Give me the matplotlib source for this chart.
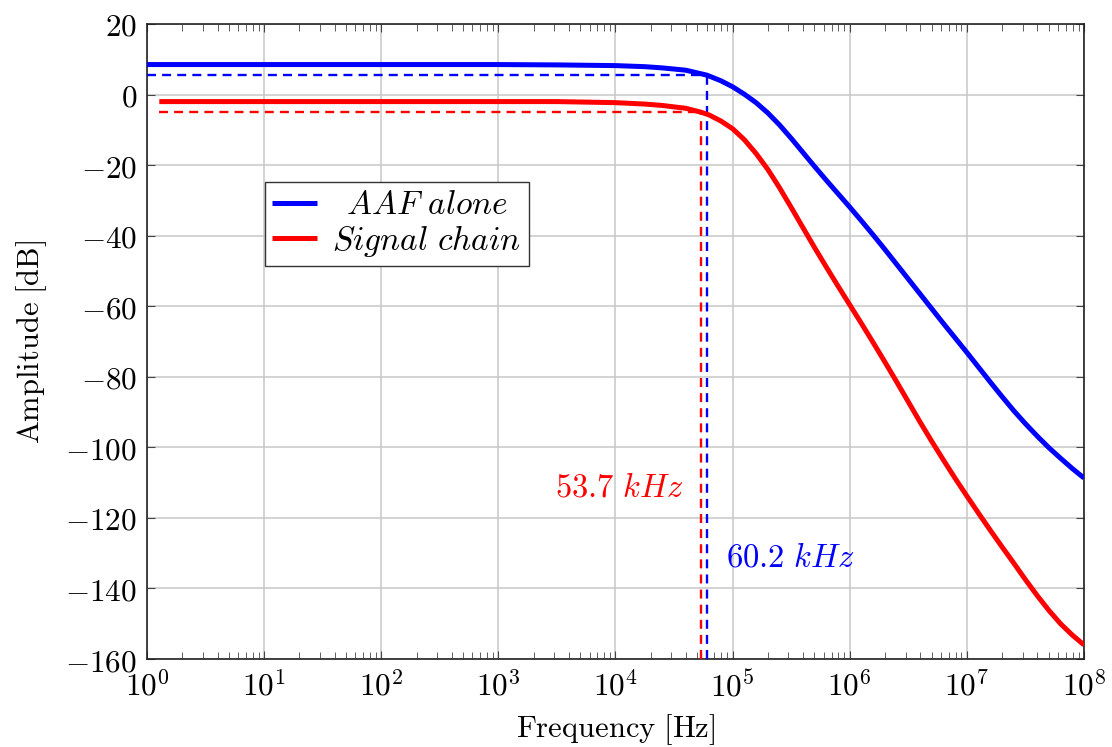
import numpy as np
import matplotlib
matplotlib.use('Agg')
import matplotlib.pyplot as plt
from matplotlib.ticker import LogLocator, FixedLocator, FuncFormatter, NullFormatter

plt.rcParams['mathtext.fontset'] = 'cm'
plt.rcParams['font.family'] = ['DejaVu Serif']

# values: log10(frequency in Hz) and amplitude in dB
aaf_logf = [0, 1, 2, 3, 3.5, 4.0, 4.25, 4.4, 4.6, 4.78, 4.9, 5.0, 5.1, 5.2, 5.3, 5.4,
            5.5, 5.6, 5.7, 5.8, 5.9, 6.0, 6.1, 6.2, 6.3, 6.4, 6.5, 6.6, 6.7, 6.8, 6.9,
            7.0, 7.1, 7.2, 7.3, 7.4, 7.5, 7.6, 7.7, 7.8, 7.9, 8.0]
aaf_db = [8.5, 8.5, 8.5, 8.5, 8.4, 8.2, 7.9, 7.55, 6.9, 5.5, 3.9, 2.2, 0.1, -2.3, -5.2, -8.6,
          -12.4, -16.4, -20.4, -24.3, -28.1, -31.9, -35.8, -39.8, -43.9, -48.1, -52.3, -56.5, -60.7, -64.9, -69.0,
          -73.1, -77.3, -81.5, -85.6, -89.6, -93.3, -96.8, -100.1, -103.1, -106.0, -108.7]

chain_logf = [0.105, 1, 2, 3, 3.5, 4.0, 4.25, 4.4, 4.6, 4.73, 4.8, 4.9, 5.0, 5.1, 5.2, 5.3, 5.4,
              5.5, 5.6, 5.7, 5.8, 5.9, 6.0, 6.1, 6.2, 6.3, 6.4, 6.5, 6.6, 6.7, 6.8, 6.9,
              7.0, 7.1, 7.2, 7.3, 7.4, 7.5, 7.6, 7.7, 7.8, 7.9, 8.0]
chain_db = [-2.0, -2.0, -2.0, -2.0, -2.0, -2.3, -2.7, -3.1, -3.9, -5.0, -5.8, -7.5, -9.7, -12.8, -16.7, -21.2, -26.4,
            -32.0, -37.7, -43.4, -48.9, -54.3, -59.6, -64.9, -70.3, -75.8, -81.4, -87.1, -92.8, -98.3, -103.6, -108.8,
            -113.8, -118.7, -123.5, -128.2, -132.8, -137.5, -142.0, -146.2, -150.0, -153.2, -156.0]

f3db_aaf = 60.2e3
f3db_chain = 53.7e3
level_aaf = 5.5
level_chain = -5.0
label_aaf = r'$60.2\ kHz$'
label_chain = r'$53.7\ kHz$'

aaf_freq = 10.0 ** np.array(aaf_logf)
chain_freq = 10.0 ** np.array(chain_logf)

fig = plt.figure(figsize=(11.12, 7.47), dpi=100)
ax = fig.add_axes([0.1322, 0.1178, 0.8426, 0.8501])

blue = (0, 0, 1)
red = (1, 0, 0)
dash = (0, (3.8, 2.6))

ax.plot(aaf_freq, aaf_db, color=blue, lw=3.6, label=r'$\enspace AAF\ alone$', zorder=4,
        solid_capstyle='butt')
ax.plot(chain_freq, chain_db, color=red, lw=3.6, label=r'$Signal\ chain$', zorder=4,
        solid_capstyle='butt')

# -3 dB markers
ax.plot([aaf_freq[0], f3db_aaf], [level_aaf, level_aaf], color=blue, lw=1.7, ls=dash, zorder=3)
ax.plot([f3db_aaf, f3db_aaf], [-160, level_aaf], color=blue, lw=1.7, ls=dash, zorder=3)
ax.plot([chain_freq[0], f3db_chain], [level_chain, level_chain], color=red, lw=1.7, ls=dash, zorder=3)
ax.plot([f3db_chain, f3db_chain], [-160, level_chain], color=red, lw=1.7, ls=dash, zorder=3)

ax.text(10**4.58, -111.5, label_chain, color=red, fontsize=23.5, ha='right', va='center')
ax.text(10**4.94, -131.2, label_aaf, color=blue, fontsize=23.5, ha='left', va='center')

ax.set_xscale('log')
ax.set_xlim(1e0, 1e8)
ax.set_ylim(-160, 20)

ax.xaxis.set_major_locator(FixedLocator([10.0**k for k in range(9)]))
ax.xaxis.set_minor_locator(LogLocator(base=10, subs=np.arange(2, 10), numticks=100))
ax.xaxis.set_minor_formatter(NullFormatter())
ax.xaxis.set_major_formatter(FuncFormatter(lambda v, p: r'$10^{%d}$' % round(np.log10(v))))
ax.yaxis.set_major_locator(FixedLocator(np.arange(-160, 21, 20)))
ax.yaxis.set_major_formatter(FuncFormatter(lambda v, p: r'$%d$' % v if v >= 0 else r'$-%d$' % -v))

ax.grid(True, which='major', color='#c8c8c8', lw=1.1, zorder=0)
ax.tick_params(which='both', direction='in', top=True, right=True, labelsize=22.5, colors='#444444',
               labelcolor='black')
ax.tick_params(axis='x', pad=9)
ax.tick_params(axis='y', pad=7)
ax.tick_params(which='major', length=6, width=0.8)
ax.tick_params(which='minor', length=5, width=0.6)
for s in ax.spines.values():
    s.set_linewidth(1.2)
    s.set_color('#222222')

ax.set_xlabel(r'$\mathrm{Frequency\ [Hz]}$', fontsize=22, labelpad=6)
ax.set_ylabel(r'$\mathrm{Amplitude\ [dB]}$', fontsize=22, labelpad=12)

leg = ax.legend(loc='upper left', bbox_to_anchor=(0.126, 0.751), fontsize=24, frameon=True,
                fancybox=False, edgecolor='#333333', framealpha=1, handlelength=1.35,
                borderpad=0.22, labelspacing=0.05, handletextpad=0.45, borderaxespad=0)
leg.get_frame().set_linewidth(1.0)

fig.savefig('out.png', dpi=100)
